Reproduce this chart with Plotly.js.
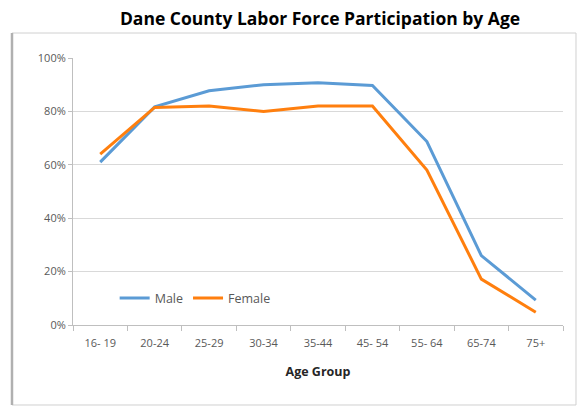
<!DOCTYPE html>
<html>
<head>
<meta charset="utf-8">
<script src="https://cdn.plot.ly/plotly-3.0.1.min.js"></script>
<style>
  html, body { margin: 0; padding: 0; background: #fff; }
  #chart { width: 584px; height: 410px; }
</style>
</head>
<body>
<div id="chart"></div>
<script>
const categories = ["16- 19", "20-24", "25-29", "30-34", "35-44", "45- 54", "55- 64", "65-74", "75+"];
const maleValues = [0.61, 0.817, 0.877, 0.90, 0.907, 0.897, 0.687, 0.26, 0.093];
const femaleValues = [0.64, 0.815, 0.82, 0.80, 0.82, 0.82, 0.58, 0.172, 0.048];
const yTickValues = [0, 0.2, 0.4, 0.6, 0.8, 1.0];
const yTickLabels = ["0%", "20%", "40%", "60%", "80%", "100%"];

const traces = [
  {
    x: categories, y: maleValues, name: "Male", type: "scatter", mode: "lines",
    line: { color: "#5b9bd5", width: 3 }
  },
  {
    x: categories, y: femaleValues, name: "Female", type: "scatter", mode: "lines",
    line: { color: "#ff7f0e", width: 3 }
  }
];

const layout = {
  width: 584, height: 410,
  margin: { l: 73, r: 21, t: 58, b: 85 },
  paper_bgcolor: "#ffffff",
  plot_bgcolor: "rgba(0,0,0,0)",
  font: { family: "Open Sans, Liberation Sans, sans-serif", color: "#595959", size: 11 },
  title: {
    text: "<b>Dane County Labor Force Participation by Age</b>",
    font: { family: "Open Sans, sans-serif", size: 17.5, color: "#000000" },
    x: 0.548, xanchor: "center", y: 0.953, yanchor: "middle"
  },
  showlegend: true,
  legend: {
    orientation: "h", x: 0.085, y: 0.1, xanchor: "left", yanchor: "middle",
    bgcolor: "rgba(0,0,0,0)", font: { size: 12.5, color: "#595959" },
    itemwidth: 30
  },
  xaxis: {
    type: "category",
    range: [-0.5, 8.5],
    tickson: "boundaries",
    ticks: "outside", ticklen: 5, tickcolor: "#bfbfbf",
    showline: true, linecolor: "#bfbfbf", linewidth: 1,
    showgrid: false, zeroline: false,
    tickfont: { size: 11, color: "#595959" },
    ticklabelstandoff: 8,
    title: { text: "<b>Age Group</b>", font: { size: 12.5, color: "#262626" }, standoff: 18 }
  },
  yaxis: {
    range: [0, 1.0],
    tickvals: yTickValues, ticktext: yTickLabels,
    ticks: "outside", ticklen: 4, tickcolor: "#bfbfbf",
    showline: true, linecolor: "#bfbfbf", linewidth: 1,
    showgrid: true, gridcolor: "#d9d9d9", gridwidth: 1,
    zeroline: false,
    tickfont: { size: 11, color: "#595959" }
  },
  shapes: [
    {
      type: "rect", xref: "paper", yref: "paper", layer: "below",
      x0: -0.1245, x1: 1.0265, y0: -0.2996, y1: 1.0936,
      line: { color: "#d0d0d0", width: 1 }, fillcolor: "rgba(0,0,0,0)"
    },
    {
      type: "line", xref: "paper", yref: "paper", layer: "below",
      x0: -0.1245, x1: -0.1245, y0: -0.2996, y1: 1.0936,
      line: { color: "#b0b0b0", width: 2.5 }
    }
  ]
};

Plotly.newPlot("chart", traces, layout, { displayModeBar: false, staticPlot: true });
</script>
</body>
</html>
